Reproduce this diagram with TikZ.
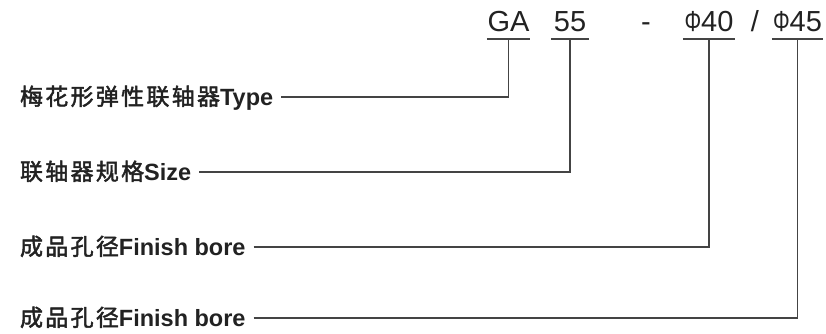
\documentclass[tikz,border=0pt]{standalone}
\usepackage{fontspec}
\usepackage{graphicx}
\setmainfont{Liberation Sans}
\newfontfamily\cjkfont[LetterSpace=10,FakeBold=2]{Noto Sans CJK SC}
\newcommand{\dia}{\scalebox{0.72}[1]{Φ}}
\definecolor{ink}{HTML}{222222}
\definecolor{wire}{HTML}{444444}
\begin{document}
\begin{tikzpicture}[x=1pt,y=-1pt,
  code/.style={inner xsep=0pt,inner ysep=7.5pt,text depth=0pt,anchor=base,
    font=\fontsize{29}{29}\selectfont,text=ink},
  lbl/.style={inner sep=0pt,outer xsep=8pt,text height=16pt,text depth=0pt,anchor=base west,
    font=\fontsize{23.5}{24}\selectfont\bfseries,text=ink},
  cjk/.style={},
  rule/.style={draw=wire,line width=1.6pt},
  wirestyle/.style={draw=wire,line width=1.5pt}]
\useasboundingbox (0,0) rectangle (826,333);
% top code
\node[code,minimum width=43pt] (ga) at (508.5,31) {GA};
\node[code,minimum width=38pt] (sz) at (570,31) {55};
\node[code] (dash) at (646,31) {-};
\node[code,minimum width=52pt] (b1) at (709,31) {\dia40};
\node[code] (sl) at (755,31) {/};
\node[code,minimum width=51pt] (b2) at (797.5,31) {\dia45};
\foreach \n in {ga,sz,b1,b2}
  \draw[rule] (\n.south west) -- (\n.south east);
% labels
\node[lbl] (l1) at (12,105) {{\mdseries\cjkfont\fontsize{23}{24}\selectfont 梅花形弹性联轴器}Type};
\node[lbl] (l2) at (12,180) {{\mdseries\cjkfont\fontsize{23}{24}\selectfont 联轴器规格}Size};
\node[lbl] (l3) at (12,255) {{\mdseries\cjkfont\fontsize{23}{24}\selectfont 成品孔径}Finish bore};
\node[lbl] (l4) at (12,326) {{\mdseries\cjkfont\fontsize{23}{24}\selectfont 成品孔径}Finish bore};
% connectors
\draw[wirestyle] (l1.east) -| (ga.south);
\draw[wirestyle] (l2.east) -| (sz.south);
\draw[wirestyle] (l3.east) -| (b1.south);
\draw[wirestyle] (l4.east) -| (b2.south);
\end{tikzpicture}
\end{document}
